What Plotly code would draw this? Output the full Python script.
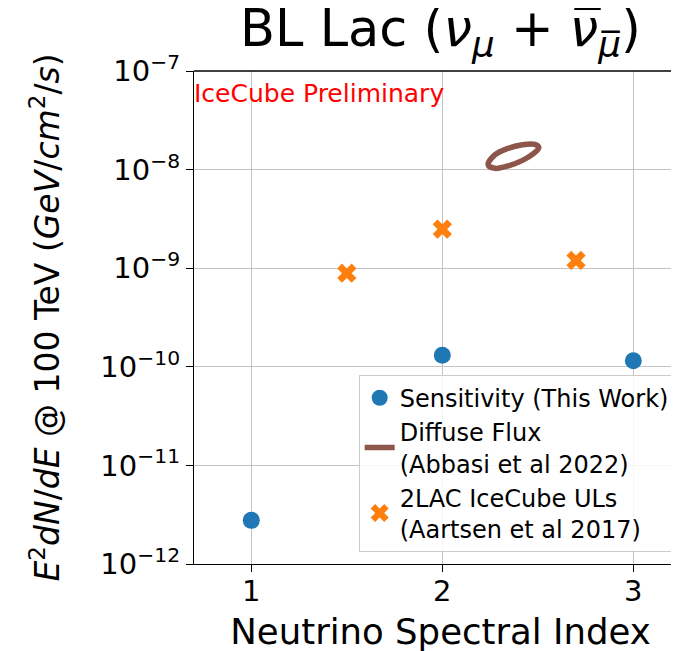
import math
import plotly.graph_objects as go

# ---------------- data ----------------
sens_index = [1, 2, 3]
sens_flux = [2.77e-12, 1.31e-10, 1.15e-10]

ul_index = [1.5, 2.0, 2.7]
ul_flux = [8.9e-10, 2.49e-9, 1.2e-9]

# diffuse flux contour (closed loop)
diffuse_index = [2.24, 2.275, 2.35, 2.42, 2.475, 2.505, 2.485, 2.42, 2.34, 2.275, 2.24]
diffuse_flux = [1.12e-8, 1.03e-8, 1.10e-8, 1.24e-8, 1.44e-8, 1.67e-8, 1.80e-8,
                1.79e-8, 1.63e-8, 1.41e-8, 1.12e-8]

y_tickvals = [1e-12, 1e-11, 1e-10, 1e-9, 1e-8, 1e-7]
y_ticktext = ["10<sup>\u221212</sup>", "10<sup>\u221211</sup>", "10<sup>\u221210</sup>",
              "10<sup>\u22129</sup>", "10<sup>\u22128</sup>", "10<sup>\u22127</sup>"]
y_minor_tickvals = [m * d for d in [1e-12, 1e-11, 1e-10, 1e-9, 1e-8] for m in range(2, 10)]
x_tickvals = [1, 2, 3]
x_ticktext = ["1", "2", "3"]

FONT = "DejaVu Sans"

fig = go.Figure()

fig.add_trace(go.Scatter(
    x=sens_index, y=sens_flux, mode="markers",
    marker=dict(color="#1f77b4", size=17, symbol="circle"),
    name="Sensitivity (This Work)",
))
fig.add_trace(go.Scatter(
    x=diffuse_index, y=diffuse_flux, mode="lines",
    line=dict(color="#8c564b", width=5.5, shape="spline", smoothing=1.0),
    name="Diffuse Flux<br>(Abbasi et al 2022)",
))
fig.add_trace(go.Scatter(
    x=ul_index, y=ul_flux, mode="markers",
    marker=dict(color="#ff7f0e", size=17, symbol="x"),
    name="2LAC IceCube ULs<br>(Aartsen et al 2017)",
))

fig.update_layout(
    width=679, height=651,
    margin=dict(l=186, r=0, t=63, b=95, autoexpand=False),
    paper_bgcolor="white", plot_bgcolor="white",
    font=dict(family=FONT, color="black", size=25),
    title=dict(
        text=("BL Lac (<i>\u03bd</i><sub><i>\u03bc</i></sub> + "
              "<i>\u03bd\u0305</i><sub><i>\u03bc\u0305</i></sub>)"),
        font=dict(size=51, family=FONT),
        x=0.5, xanchor="center", xref="paper",
        y=0.996, yanchor="top", yref="container",
    ),
    showlegend=True,
    legend=dict(
        x=0.975, xanchor="right", y=0.025, yanchor="bottom",
        bgcolor="rgba(255,255,255,0.85)", bordercolor="#cccccc", borderwidth=1,
        font=dict(size=24, family=FONT),
        tracegroupgap=2, itemwidth=30,
    ),
    annotations=[dict(
        text="IceCube Preliminary", xref="paper", yref="paper",
        x=-0.004, y=0.955, xanchor="left", yanchor="middle", showarrow=False,
        font=dict(color="red", size=25, family=FONT),
    )],
)

fig.update_xaxes(
    range=[0.7, 3.281],
    tickvals=x_tickvals, ticktext=x_ticktext,
    ticks="outside", ticklen=7, tickwidth=1.2, tickcolor="black",
    ticklabelstandoff=-6,
    showline=True, linecolor="black", linewidth=1.3, mirror=False,
    showgrid=True, gridcolor="#c4c4c4", gridwidth=1,
    zeroline=False,
    tickfont=dict(size=29),
    title=dict(text="Neutrino Spectral Index", font=dict(size=35.5), standoff=12),
)
fig.update_yaxes(
    type="log", range=[-12, -7],
    tickvals=y_tickvals, ticktext=y_ticktext,
    ticks="outside", ticklen=7, tickwidth=1.2, tickcolor="black",
    showline=True, linecolor="black", linewidth=1.3, mirror=False,
    showgrid=True, gridcolor="#c4c4c4", gridwidth=1,
    zeroline=False,
    tickfont=dict(size=29),
    title=dict(
        text="<i>E</i><sup>2</sup><i>dN</i>/<i>dE</i> @ 100 TeV (<i>GeV</i>/<i>cm</i><sup>2</sup>/<i>s</i>)",
        font=dict(size=33), standoff=30,
    ),
)

# top spine
fig.add_shape(type="line", xref="paper", yref="paper", x0=0, x1=1, y0=1, y1=1,
              line=dict(color="black", width=1.3))

# minor log ticks on the left spine (shapes on log axes use log10 coordinates)
for v in y_minor_tickvals:
    fig.add_shape(type="line", xref="paper", yref="y",
                  x0=-0.0085, x1=0, y0=math.log10(v), y1=math.log10(v),
                  line=dict(color="black", width=1), layer="above")

fig.write_html("out.html")
